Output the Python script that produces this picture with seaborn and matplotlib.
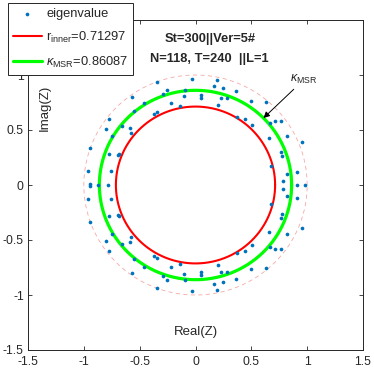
import numpy as np
import pandas as pd
import matplotlib
matplotlib.use('Agg')
import matplotlib.pyplot as plt
import seaborn as sns

# eigenvalues (upper half plane, conjugates mirrored below)
upper_re = [-0.034, -0.347, -0.258, -0.291, -0.094, -0.100, -0.139, -0.217, -0.349, -0.369,
            -0.457, -0.566, -0.548, -0.584, -0.577, -0.661, -0.772, -0.801, -0.750, -0.772,
            -0.697, -0.682, -0.945, -0.965, -0.756, -0.945,
            0.197, 0.163, 0.249, 0.367, 0.049, 0.052, 0.228, 0.279, 0.199, 0.497,
            0.627, 0.369, 0.443, 0.503, 0.667, 0.712, 0.765, 0.658, 0.819, 0.958,
            0.765, 0.774, 0.676, 0.913, 0.821, 0.786]
upper_im = [0.964, 0.936, 0.864, 0.825, 0.868, 0.805, 0.718, 0.745, 0.668, 0.643,
            0.741, 0.797, 0.673, 0.521, 0.470, 0.539, 0.597, 0.509, 0.445, 0.285,
            0.273, 0.285, 0.339, 0.127, 0.127, 0.012,
            0.959, 0.897, 0.886, 0.859, 0.821, 0.788, 0.793, 0.794, 0.730, 0.765,
            0.755, 0.618, 0.597, 0.545, 0.568, 0.582, 0.582, 0.425, 0.445, 0.394,
            0.303, 0.265, 0.175, 0.118, 0.098, 0.036]
real_eigs = [-0.875, -0.780, 0.906, 0.983]

r_inner = 0.71297
k_msr = 0.86087
r_unit = 1.0

ticks = [-1.5, -1, -0.5, 0, 0.5, 1, 1.5]
tick_labels = ['-1.5', '-1', '-0.5', '0', '0.5', '1', '1.5']

eig = pd.DataFrame({
    're': upper_re + upper_re + real_eigs,
    'im': upper_im + [-v for v in upper_im] + [0.0] * len(real_eigs),
})

theta = np.linspace(0, 2 * np.pi, 500)
def circle(r):
    return pd.DataFrame({'x': r * np.cos(theta), 'y': r * np.sin(theta)})

sns.set_style('ticks')
plt.rcParams['font.family'] = ['Liberation Sans', 'DejaVu Sans']
plt.rcParams['mathtext.fontset'] = 'custom'
plt.rcParams['mathtext.rm'] = 'Liberation Sans'
plt.rcParams['mathtext.it'] = 'Liberation Sans:italic'

fig = plt.figure(figsize=(3.74, 3.73), dpi=100)
ax = fig.add_axes([28 / 374, 1 - 350 / 373, 335 / 374, 330 / 373])

sns.scatterplot(data=eig, x='re', y='im', ax=ax, s=7, color='#0072BD', marker='o',
                linewidth=0, label='eigenvalue', zorder=3)
sns.lineplot(data=circle(r_inner), x='x', y='y', sort=False, estimator=None, ax=ax,
             color='#ff0000', linewidth=1.5, label=r'r$_{\mathregular{inner}}$=0.71297', zorder=2)
sns.lineplot(data=circle(k_msr), x='x', y='y', sort=False, estimator=None, ax=ax,
             color='#00ff00', linewidth=2.3, label=r'$\kappa_{\mathregular{MSR}}$=0.86087', zorder=2)
sns.lineplot(data=circle(r_unit), x='x', y='y', sort=False, estimator=None, ax=ax,
             color='#f6a8a8', linewidth=0.6, linestyle=(0, (5, 4)), zorder=1)

handles, labels = ax.get_legend_handles_labels()
ax.get_legend().remove()
leg = fig.legend(handles[:3], labels[:3], loc='upper left', bbox_to_anchor=(8 / 374, 1 - 3 / 373),
                 fontsize=9.3, frameon=True, fancybox=False, edgecolor='#262626',
                 framealpha=1, borderpad=0.4, labelspacing=0.75, handlelength=2.2,
                 handletextpad=0.35, borderaxespad=0)
leg.get_frame().set_linewidth(0.7)
leg.legend_handles[0].set_sizes([7])

ax.set_xlim(-1.5, 1.5)
ax.set_ylim(-1.5, 1.5)
ax.set_xticks(ticks)
ax.set_xticklabels(tick_labels)
ax.set_yticks(ticks)
ax.set_yticklabels(tick_labels)
ax.tick_params(direction='in', length=3, width=0.6, labelsize=8.8, colors='#262626',
               top=True, right=True)
ax.tick_params(axis='x', pad=4)
ax.tick_params(axis='y', pad=3)
for sp in ax.spines.values():
    sp.set_linewidth(0.7)
    sp.set_color('#262626')
    sp.set_visible(True)

ax.set_xlabel('Real(Z)', fontsize=9.5, color='#262626')
ax.xaxis.set_label_coords(0.5, 0.072)
ax.set_ylabel('Imag(Z)', fontsize=9.5, color='#262626')
ax.yaxis.set_label_coords(0.068, 0.733)

ax.text(0.13, 1.33, 'St=300||Ver=5#', fontsize=9.3, fontweight='bold',
        ha='center', va='center')
ax.text(0.12, 1.148, 'N=118, T=240  ||L=1', fontsize=9.3, fontweight='bold',
        ha='center', va='center')

ax.annotate(r'$\kappa_{\mathregular{MSR}}$', xy=(k_msr * 0.707, k_msr * 0.707),
            xytext=(0.85, 0.90), fontsize=9, ha='left', va='bottom',
            arrowprops=dict(arrowstyle='-|>', color='black', lw=0.7,
                            mutation_scale=9, shrinkA=0, shrinkB=0))

fig.savefig('out.png', dpi=100)
